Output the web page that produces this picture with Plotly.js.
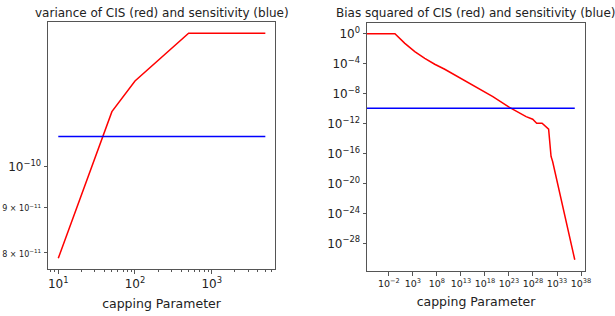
<!DOCTYPE html>
<html>
<head>
<meta charset="utf-8">
<script src="https://cdn.plot.ly/plotly-3.0.1.min.js"></script>
<style>html,body{margin:0;padding:0;background:#fff;}#chart{width:615px;height:316px;}</style>
</head>
<body>
<div id="chart"></div>
<script>
// ---- Left panel: variance ----
const capLeft = [10, 50, 100, 500, 1000, 5000];
const varCIS = [7.88e-11, 1.154e-10, 1.25e-10, 1.415e-10, 1.415e-10, 1.415e-10];
const varSens = [1.082e-10, 1.082e-10, 1.082e-10, 1.082e-10, 1.082e-10, 1.082e-10];

// ---- Right panel: bias squared ----
// first value stands for a capping parameter of ~0 (runs off the left edge)
const capRight = [1e-7, 1.8e-1, 2.1e1, 2.45e3, 2.95e5, 3.47e7, 4.2e9, 4.9e11, 5.9e13, 3.1e15, 4.4e19, 1.26e23, 3.7e26, 8.7e27, 5.9e28, 7.8e29, 1.8e31, 5.8e31, 1.23e32, 5e36];
const biasCIS = [1, 1, 5.2e-2, 4.0e-3, 5.2e-4, 8.3e-5, 1.78e-5, 3.1e-6, 6.8e-7, 1.45e-7, 4.0e-9, 1.41e-10, 8.5e-12, 3.8e-12, 1.12e-12, 1.12e-12, 1.78e-13, 4.0e-17, 8.5e-18, 6.3e-31];
const capRightSens = [1e-7, 5e36];
const biasSens = [1.082e-10, 1.082e-10];

// tick labels
const M = '\u2212';
const leftXTickVals = [10, 100, 1000];
const leftXTickText = ['10<sup>1</sup>', '10<sup>2</sup>', '10<sup>3</sup>'];
const leftYTickVals = [8e-11, 9e-11, 1e-10];
const leftYTickText = ['<span style="font-size:8px">8 × 10<sup>' + M + '11</sup></span>',
                       '<span style="font-size:8px">9 × 10<sup>' + M + '11</sup></span>',
                       '10<sup>' + M + '10</sup>'];
const rightXExp = [-2, 3, 8, 13, 18, 23, 28, 33, 38];
const rightYExp = [0, -4, -8, -12, -16, -20, -24, -28];

const fmtPow = e => '10<sup>' + (e < 0 ? M + (-e) : e) + '</sup>';
const rightXTickVals = rightXExp.map(e => Math.pow(10, e));
const rightXTickText = rightXExp.map(fmtPow);
const rightYTickVals = rightYExp.map(e => Math.pow(10, e));
const rightYTickText = rightYExp.map(fmtPow);

const leftXMinor = [8, 9, 20, 30, 40, 50, 60, 70, 80, 90, 200, 300, 400, 500, 600, 700, 800, 900, 2000, 3000, 4000, 5000, 6000];

const font = 'DejaVu Sans, sans-serif';
const red = '#ff0000', blue = '#0000ff';

const traces = [
  {x: capLeft, y: varCIS, mode: 'lines', line: {color: red, width: 1.5}, xaxis: 'x', yaxis: 'y'},
  {x: capLeft, y: varSens, mode: 'lines', line: {color: blue, width: 1.5}, xaxis: 'x', yaxis: 'y'},
  {x: capRight, y: biasCIS, mode: 'lines', line: {color: red, width: 1.5}, xaxis: 'x2', yaxis: 'y2'},
  {x: capRightSens, y: biasSens, mode: 'lines', line: {color: blue, width: 1.5}, xaxis: 'x2', yaxis: 'y2'}
];

const axCommon = {
  showline: true, mirror: true, linecolor: '#555', linewidth: 1,
  showgrid: false, zeroline: false, ticks: 'outside', ticklen: 3.5, tickwidth: 1, tickcolor: '#555',
  tickfont: {family: font, size: 12, color: '#222'}
};

const layout = {
  width: 615, height: 316,
  margin: {l: 0, r: 0, t: 0, b: 0},
  paper_bgcolor: '#fff', plot_bgcolor: '#fff',
  showlegend: false,
  font: {family: font, color: '#222'},
  xaxis: Object.assign({}, axCommon, {
    type: 'log', domain: [48/615, 275/615], range: [0.866, 3.825], anchor: 'y',
    tickmode: 'array', tickvals: leftXTickVals, ticktext: leftXTickText,
    minor: {ticks: 'outside', ticklen: 2, tickcolor: '#555', tickmode: 'array', tickvals: leftXMinor},
    title: {text: 'capping Parameter', font: {family: font, size: 12.5, color: '#222'}, standoff: 9}
  }),
  yaxis: Object.assign({}, axCommon, {
    type: 'log', domain: [1 - 269/316, 1 - 22/316], range: [-10.1156, -9.8365], anchor: 'x',
    tickmode: 'array', tickvals: leftYTickVals, ticktext: leftYTickText
  }),
  xaxis2: Object.assign({}, axCommon, {
    type: 'log', domain: [367/615, 585/615], range: [-6.56, 38.83], anchor: 'y2',
    tickmode: 'array', tickvals: rightXTickVals, ticktext: rightXTickText,
    tickfont: {family: font, size: 9.5, color: '#222'},
    title: {text: 'capping Parameter', font: {family: font, size: 12.5, color: '#222'}, standoff: 9}
  }),
  yaxis2: Object.assign({}, axCommon, {
    type: 'log', domain: [1 - 271/316, 1 - 23/316], range: [-31.7, 1.43], anchor: 'x2',
    tickmode: 'array', tickvals: rightYTickVals, ticktext: rightYTickText
  }),
  annotations: [
    {text: 'variance of CIS (red) and sensitivity (blue)', xref: 'x domain', yref: 'paper', x: 0.5, y: 1 - 13.3/316,
     xanchor: 'center', yanchor: 'middle', showarrow: false, font: {family: font, size: 12, color: '#222'}},
    {text: 'Bias squared of CIS (red) and sensitivity (blue)', xref: 'x2 domain', yref: 'paper', x: 0.5, y: 1 - 13.3/316,
     xanchor: 'center', yanchor: 'middle', showarrow: false, font: {family: font, size: 12, color: '#222'}}
  ]
};

Plotly.newPlot('chart', traces, layout, {staticPlot: true, displayModeBar: false});
</script>
</body>
</html>
